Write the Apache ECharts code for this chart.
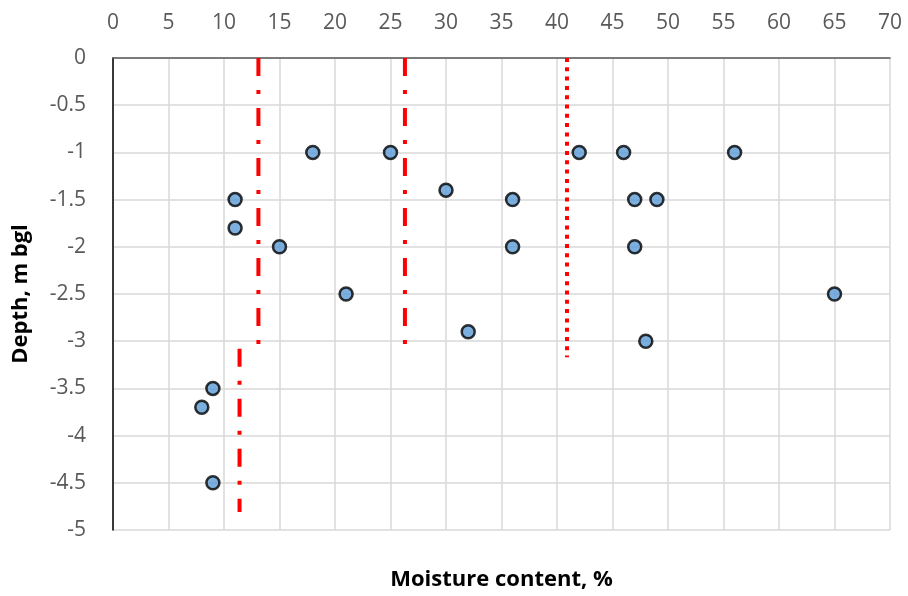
<!DOCTYPE html>
<html>
<head>
<meta charset="utf-8">
<script src="https://cdn.jsdelivr.net/npm/echarts@6/dist/echarts.min.js"></script>
<style>html,body{margin:0;padding:0;background:#fff;overflow:hidden}#c{width:908px;height:596px}</style>
</head>
<body>
<div id="c"></div>
<script>
// Moisture content (%) and depth (m bgl) of samples
const moisture = [18, 25, 42, 46, 56, 30, 11, 36, 47, 49, 11, 15, 36, 47, 21, 65, 32, 48, 9, 8, 9];
const depth = [-1, -1, -1, -1, -1, -1.4, -1.5, -1.5, -1.5, -1.5, -1.8, -2, -2, -2, -2.5, -2.5, -2.9, -3, -3.5, -3.7, -4.5];

// Red reference lines: [x, yTop, yBottom]
const lineA = [13.1, 0, -3.04];     // dash-dot
const lineB = [26.3, 0, -3.09];     // dash-dot
const lineC = [40.9, 0, -3.17];     // dotted
const lineD = [11.4, -3.08, -4.81]; // dash-dot

const xTicks = {min: 0, max: 70, interval: 5};
const yTicks = {min: -5, max: 0, interval: 0.5};

const font = '"Open Sans", "Liberation Sans", sans-serif';
const dashDot = [18, 14, 4, 14];
const dotted = [4, 5.3];

function vline(l, dash) {
  return {
    type: 'line', symbol: 'none', silent: true, z: 1,
    data: [[l[0], l[1]], [l[0], l[2]]],
    lineStyle: {color: '#ff0000', width: 4, type: dash, cap: 'butt'}
  };
}

const chart = echarts.init(document.getElementById('c'), null, {renderer: 'canvas', width: 908, height: 596});
chart.setOption({
  animation: false,
  backgroundColor: '#ffffff',
  grid: {left: 113, top: 58, width: 777, height: 475, containLabel: false},
  xAxis: [{
    type: 'value', position: 'top', min: xTicks.min, max: xTicks.max, interval: xTicks.interval,
    axisLine: {show: true, onZero: false, lineStyle: {color: '#595959', width: 1.5}},
    axisTick: {show: false},
    axisLabel: {color: '#595959', fontSize: 21, fontFamily: font, margin: 24},
    splitLine: {show: true, lineStyle: {color: '#d9d9d9', width: 1.5}}
  }, {
    type: 'value', position: 'bottom', min: xTicks.min, max: xTicks.max,
    axisLine: {show: false}, axisTick: {show: false}, axisLabel: {show: false}, splitLine: {show: false},
    name: 'Moisture content, %', nameLocation: 'middle', nameGap: 39,
    nameTextStyle: {color: '#000', fontSize: 22, fontWeight: 'bold', fontFamily: font}
  }],
  yAxis: {
    type: 'value', min: yTicks.min, max: yTicks.max, interval: yTicks.interval,
    axisLine: {show: true, onZero: false, lineStyle: {color: '#000', width: 1.5}},
    axisTick: {show: false},
    axisLabel: {color: '#595959', fontSize: 21, fontFamily: font, margin: 27},
    splitLine: {show: true, lineStyle: {color: '#d9d9d9', width: 1.5}},
    name: 'Depth, m bgl', nameLocation: 'middle', nameRotate: 90, nameGap: 81,
    nameTextStyle: {color: '#000', fontSize: 22, fontWeight: 'bold', fontFamily: font}
  },
  series: [
    vline(lineA, dashDot),
    vline(lineB, dashDot),
    vline(lineC, dotted),
    vline(lineD, dashDot),
    {
      type: 'scatter', z: 5,
      data: moisture.map((m, i) => [m, depth[i]]),
      symbol: 'circle', symbolSize: 13,
      itemStyle: {color: '#5b9bd5', borderColor: '#000', borderWidth: 2.5}
    }
  ]
});
</script>
</body>
</html>
